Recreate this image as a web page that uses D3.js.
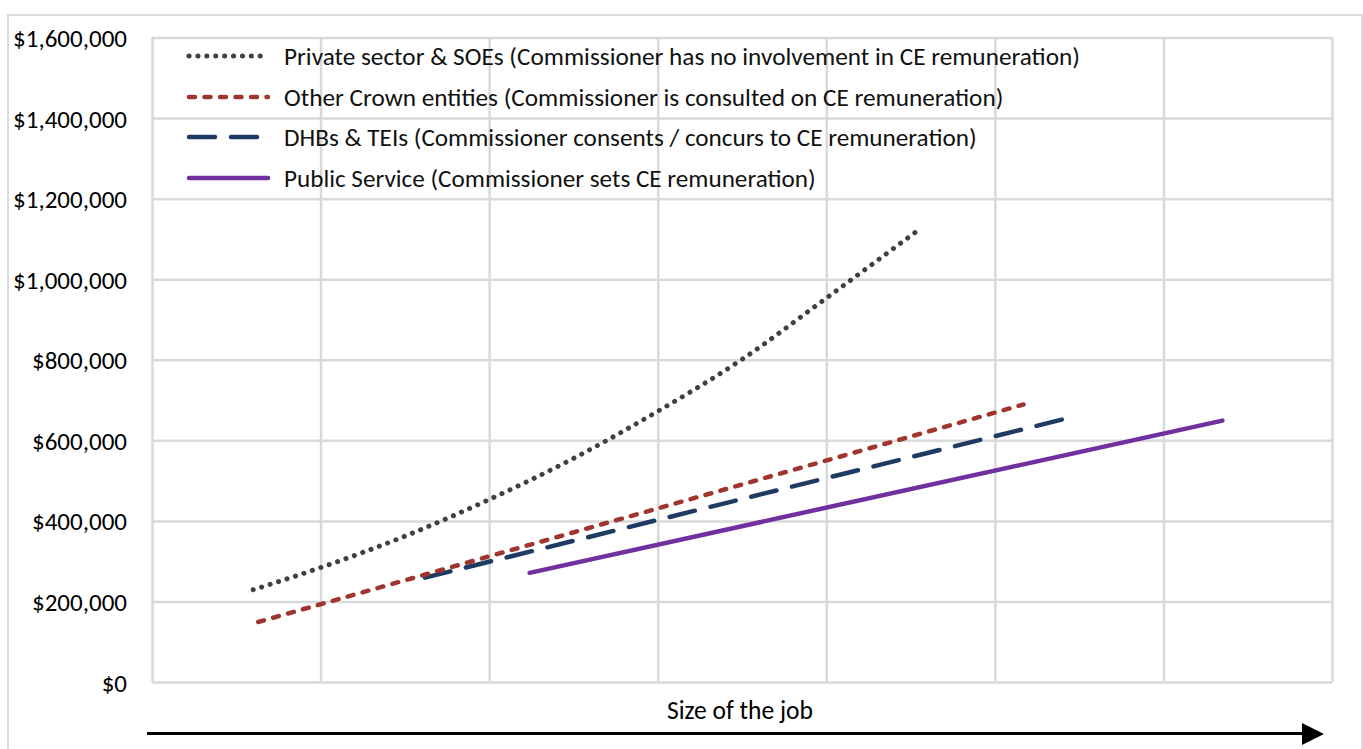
<!DOCTYPE html>
<html><head><meta charset="utf-8">
<script src="https://cdn.jsdelivr.net/npm/d3@7"></script>
<style>html,body{margin:0;padding:0;background:#fff;}svg{display:block;}</style>
</head><body><svg id="c" width="1363" height="749"></svg>
<script>
// ---- data ----
const seriesNames = [
  "Private sector & SOEs (Commissioner has no involvement in CE remuneration)",
  "Other Crown entities (Commissioner is consulted on CE remuneration)",
  "DHBs & TEIs (Commissioner consents / concurs to CE remuneration)",
  "Public Service (Commissioner sets CE remuneration)"
];
const privateX = [0.6, 1, 1.5, 2, 2.5, 3, 3.5, 4, 4.53];
const privateY = [229000, 284000, 362000, 453000, 555000, 672000, 801000, 953000, 1117000];
const crownX = [0.63, 5.17];
const crownY = [149000, 689000];
const dhbX = [1.62, 5.47];
const dhbY = [259000, 659000];
const publicX = [2.24, 6.35];
const publicY = [271000, 649000];
const xGrid = [0, 1, 2, 3, 4, 5, 6, 7];
const yTicks = [0, 200000, 400000, 600000, 800000, 1000000, 1200000, 1400000, 1600000];
const xAxisTitle = "Size of the job";

const svg = d3.select("#c");
const font = "Calibri, Carlito, Lato, 'Liberation Sans', sans-serif";
const L = 152, R = 1332, T = 37.5, B = 682;
const x = d3.scaleLinear().domain([0, 7]).range([L, R]);
const y = d3.scaleLinear().domain([0, 1600000]).range([B, T]);

// outer frame
svg.append("rect").attr("x", 8).attr("y", 15).attr("width", 1354).attr("height", 760)
  .attr("fill", "none").attr("stroke", "#d9d9d9").attr("stroke-width", 2);

// gridlines
const gx = svg.append("g").attr("transform", `translate(0,${B})`)
  .call(d3.axisBottom(x).tickValues(xGrid).tickSize(-(B - T)).tickFormat(""));
gx.select(".domain").remove();
gx.selectAll("line").attr("stroke", "#d9d9d9").attr("stroke-width", 2.5);
const gy = svg.append("g").attr("transform", `translate(${L},0)`)
  .call(d3.axisLeft(y).tickValues(yTicks).tickSize(-(R - L)).tickFormat(""));
gy.select(".domain").remove();
gy.selectAll("line").attr("stroke", "#d9d9d9").attr("stroke-width", 2.5);

// y labels
const fmt = v => "$" + d3.format(",")(v);
const yl = svg.append("g").attr("transform", `translate(127,0)`)
  .call(d3.axisLeft(y).tickValues(yTicks).tickSize(0).tickPadding(0).tickFormat(fmt));
yl.select(".domain").remove();
yl.selectAll("text").attr("font-family", font).attr("font-size", 19).attr("fill", "#000")
  .attr("dy", "0.36em");

function fitText(sel, target) {
  const w = sel.node().getComputedTextLength();
  const fs = parseFloat(sel.attr("font-size"));
  sel.attr("font-size", fs * target / w);
}
{
  const t = yl.selectAll("text").filter(d => d === 1600000);
  const w = t.node().getComputedTextLength();
  const fs = 19 * 114 / w;
  yl.selectAll("text").attr("font-size", fs);
}

// series
const styles = [
  {color: "#404040", dash: "0.1 8.8", width: 5, cap: "round"},
  {color: "#A0342F", dash: "6 9.5", width: 4.5, cap: "round"},
  {color: "#203B63", dash: "26 16", width: 4.5, cap: "round"},
  {color: "#7030A0", dash: null, width: 4.5, cap: "round"}
];
const data = [
  {xs: privateX, ys: privateY, curve: d3.curveMonotoneX},
  {xs: crownX, ys: crownY, curve: d3.curveLinear},
  {xs: dhbX, ys: dhbY, curve: d3.curveLinear},
  {xs: publicX, ys: publicY, curve: d3.curveLinear}
];
[3, 2, 1, 0].forEach(i => {
  const d = data[i], s = styles[i];
  const pts = d.xs.map((v, k) => [v, d.ys[k]]);
  const line = d3.line().x(p => x(p[0])).y(p => y(p[1])).curve(d.curve);
  svg.append("path").attr("d", line(pts)).attr("fill", "none")
    .attr("stroke", s.color).attr("stroke-width", s.width)
    .attr("stroke-linecap", s.cap)
    .attr("stroke-dasharray", s.dash);
});

// legend
const legY = [56, 97, 137, 178];
const legTargets = [796, 720, 693, 532];
seriesNames.forEach((n, i) => {
  const s = styles[i];
  svg.append("line").attr("x1", 189).attr("x2", 268).attr("y1", legY[i]).attr("y2", legY[i])
    .attr("stroke", s.color).attr("stroke-width", s.width).attr("stroke-linecap", s.cap)
    .attr("stroke-dasharray", s.dash);
  const t = svg.append("text").attr("x", 284).attr("y", legY[i]).attr("dy", "0.35em")
    .attr("font-family", font).attr("font-size", 19).attr("fill", "#111").text(n);
  fitText(t, legTargets[i]);
});

// x axis title
const xt = svg.append("text").attr("x", 740).attr("y", 710).attr("dy", "0.35em")
  .attr("text-anchor", "middle").attr("font-family", font).attr("font-size", 19)
  .attr("fill", "#000").text(xAxisTitle);
fitText(xt, 146);

// arrow
svg.append("line").attr("x1", 147).attr("x2", 1305).attr("y1", 733.5).attr("y2", 733.5)
  .attr("stroke", "#000").attr("stroke-width", 3);
svg.append("path").attr("d", d3.line()([[1302, 723], [1324, 734], [1302, 745]]) + "Z")
  .attr("fill", "#000");
</script></body></html>
